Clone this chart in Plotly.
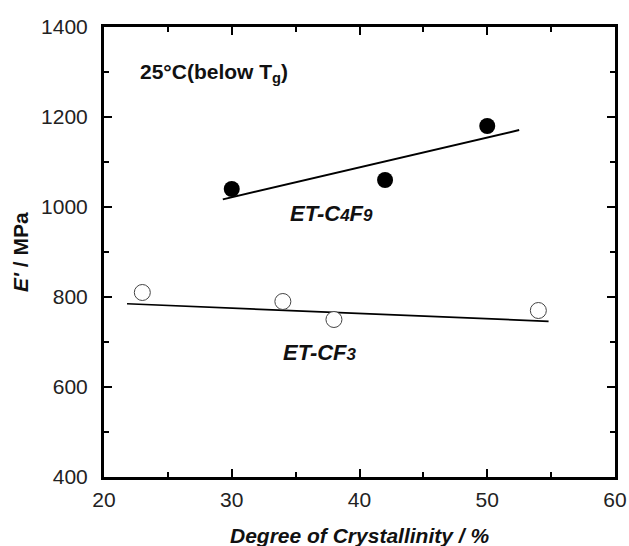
import plotly.graph_objects as go

# Data
c4f9_x = [30, 42, 50]
c4f9_y = [1040, 1060, 1180]
cf3_x = [23, 34, 38, 54]
cf3_y = [810, 790, 750, 770]

# Linear fit lines (endpoints)
c4f9_fit_x = [29.3, 52.5]
c4f9_fit_y = [1017, 1171]
cf3_fit_x = [21.8, 54.8]
cf3_fit_y = [785, 746]

x_ticks = [20, 30, 40, 50, 60]
y_ticks = [400, 600, 800, 1000, 1200, 1400]

FONT = "Liberation Sans, Arial, sans-serif"

fig = go.Figure()
fig.add_trace(go.Scatter(x=c4f9_fit_x, y=c4f9_fit_y, mode="lines",
                         line=dict(color="black", width=2), showlegend=False))
fig.add_trace(go.Scatter(x=cf3_fit_x, y=cf3_fit_y, mode="lines",
                         line=dict(color="black", width=1.7), showlegend=False))
fig.add_trace(go.Scatter(x=c4f9_x, y=c4f9_y, mode="markers",
                         marker=dict(size=16, color="black", line=dict(width=0)),
                         showlegend=False))
fig.add_trace(go.Scatter(x=cf3_x, y=cf3_y, mode="markers",
                         marker=dict(size=16, color="white",
                                     line=dict(width=1, color="#444")),
                         showlegend=False))

fig.add_annotation(x=22.7, y=1298, xref="x", yref="y", xanchor="left",
                   text="<b>25°C(below T<sub>g</sub>)</b>", showarrow=False,
                   font=dict(family=FONT, size=21, color="#111"))
fig.add_annotation(x=37.8, y=986, xref="x", yref="y",
                   text="<b><i>ET-C<span style='font-size:17px'>4</span>F<span style='font-size:17px'>9</span></i></b>",
                   showarrow=False, font=dict(family=FONT, size=22, color="#111"))
fig.add_annotation(x=36.9, y=677, xref="x", yref="y",
                   text="<b><i>ET-CF<span style='font-size:17px'>3</span></i></b>",
                   showarrow=False, font=dict(family=FONT, size=22, color="#111"))

# axis titles
fig.add_annotation(x=0.5, y=0, xref="paper", yref="paper", yanchor="middle",
                   yshift=-58, showarrow=False,
                   text="<b><i>Degree of Crystallinity / %</i></b>",
                   font=dict(family=FONT, size=21, color="#111"))
fig.add_annotation(x=0, y=0.5, xref="paper", yref="paper", xanchor="center",
                   xshift=-84, showarrow=False, textangle=-90,
                   text="<b><i>E'</i> / MPa</b>",
                   font=dict(family=FONT, size=21, color="#111"))

axis_common = dict(showline=True, linewidth=3, linecolor="black", mirror="ticks",
                   ticks="inside", ticklen=8, tickwidth=1.5, tickcolor="black",
                   showgrid=False, zeroline=False, automargin=False,
                   tickfont=dict(family=FONT, size=21, color="#222"))

fig.update_xaxes(range=[20, 60], tickvals=x_ticks, ticktext=[str(v) for v in x_ticks],
                 minor=dict(ticks="inside", ticklen=5, dtick=5, tickwidth=1.5,
                            tickcolor="black", showgrid=False),
                 ticklabelstandoff=2,
                 **axis_common)
fig.update_yaxes(range=[400, 1400], tickvals=y_ticks, ticktext=[str(v) for v in y_ticks],
                 minor=dict(ticks="inside", ticklen=5, dtick=100, tickwidth=1.5,
                            tickcolor="black", showgrid=False),
                 ticklabelstandoff=9,
                 **axis_common)

fig.update_layout(width=629, height=546, plot_bgcolor="white", paper_bgcolor="white",
                  margin=dict(l=104, r=14, t=27, b=69), showlegend=False)

fig.write_html("out.html")
